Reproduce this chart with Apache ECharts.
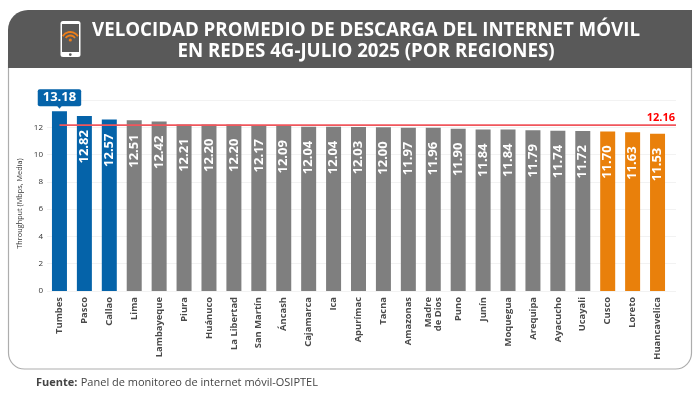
<!DOCTYPE html>
<html>
<head>
<meta charset="utf-8">
<style>html,body{margin:0;padding:0;background:#fff}#c{width:700px;height:395px}</style>
<script src="https://cdn.jsdelivr.net/npm/echarts@6/dist/echarts.min.js"></script>
</head>
<body>
<div id="c"></div>
<script>
const regions = ['Tumbes','Pasco','Callao','Lima','Lambayeque','Piura','Huánuco','La Libertad','San Martín','Áncash','Cajamarca','Ica','Apurímac','Tacna','Amazonas','Madre\nde Dios','Puno','Junín','Moquegua','Arequipa','Ayacucho','Ucayali','Cusco','Loreto','Huancavelica'];
const speeds = [13.18,12.82,12.57,12.51,12.42,12.21,12.20,12.20,12.17,12.09,12.04,12.04,12.03,12.00,11.97,11.96,11.90,11.84,11.84,11.79,11.74,11.72,11.70,11.63,11.53];
const nationalAverage = 12.16;
const topCount = 3, bottomCount = 3;
const titleLines = 'VELOCIDAD PROMEDIO DE DESCARGA DEL INTERNET MÓVIL\nEN REDES 4G-JULIO 2025 (POR REGIONES)';
const yName = 'Throughput (Mbps, Media)';

const BLUE='#0563a9', GRAY='#7f7f7f', ORANGE='#e9800b', FONT='"Open Sans"';
const colorOf = i => i < topCount ? BLUE : (i >= regions.length - bottomCount ? ORANGE : GRAY);

const chart = echarts.init(document.getElementById('c'), null, {renderer:'canvas'});
chart.setOption({
  animation:false,
  backgroundColor:'#fff',
  textStyle:{fontFamily:FONT},
  graphic:[
    {type:'rect',z:0,shape:{x:8.5,y:60,width:683,height:309,r:[0,0,16,16]},style:{fill:'#fff',stroke:'#adadad',lineWidth:1.2}},
    {type:'rect',z:1,shape:{x:8,y:10,width:684,height:58,r:[20,0,0,0]},style:{fill:'#595959'}},
    {type:'rect',z:2,shape:{x:60.5,y:21,width:20,height:36,r:2.5},style:{fill:'#fff'}},
    {type:'rect',z:3,shape:{x:62,y:24,width:17,height:28},style:{fill:'#595959'}},
    {type:'circle',z:3,shape:{cx:70.3,cy:54.6,r:1.4},style:{fill:'#595959'}},
    {type:'arc',z:4,shape:{cx:70.3,cy:41,r:9,startAngle:-Math.PI*0.82,endAngle:-Math.PI*0.18},style:{stroke:'#ee7f1a',lineWidth:1.8,fill:null}},
    {type:'arc',z:4,shape:{cx:70.3,cy:41,r:5.5,startAngle:-Math.PI*0.82,endAngle:-Math.PI*0.18},style:{stroke:'#ee7f1a',lineWidth:1.8,fill:null}},
    {type:'circle',z:4,shape:{cx:70.3,cy:40,r:1.6},style:{fill:'#ee7f1a'}},
    {type:'text',z:5,style:{x:366,y:20,text:titleLines,fill:'#fff',align:'center',verticalAlign:'top',font:'700 18.7px '+FONT,lineHeight:21}},
    {type:'text',z:5,style:{x:36,y:383,verticalAlign:'middle',rich:{b:{font:'700 11px '+FONT,fill:'#444'},n:{font:'400 11px '+FONT,fill:'#444'}},text:'{b|Fuente:} {n|Panel de monitoreo de internet móvil-OSIPTEL}'}}
  ],
  grid:[
    {left:47,top:100,width:623,height:191},
    {left:47,top:100,width:629,height:191}
  ],
  xAxis:[
    {type:'category',gridIndex:0,data:regions,
     axisLine:{show:false},axisTick:{show:false},
     axisLabel:{interval:0,rotate:90,margin:6,fontSize:9.4,fontWeight:700,color:'#4a4a4a',lineHeight:10.5,fontFamily:FONT}},
    {type:'value',gridIndex:1,min:-0.5,max:24.76,show:false,splitLine:{show:false}}
  ],
  yAxis:[
    {type:'value',gridIndex:0,min:0,max:14,interval:2,show:false},
    {type:'value',gridIndex:1,min:0,max:14,interval:2,
     name:yName,nameLocation:'middle',nameGap:11,nameRotate:90,
     nameTextStyle:{fontSize:7.3,color:'#333',padding:[0,16,0,0]},
     axisLine:{show:false},axisTick:{show:false},
     axisLabel:{margin:4,fontSize:8,color:'#333',formatter:v=>v===14?'':String(v)},
     splitLine:{lineStyle:{color:'#f2f2f2',width:1}}}
  ],
  series:[
    {type:'bar',xAxisIndex:0,yAxisIndex:0,z:3,barWidth:15,
     data:speeds.map((v,i)=>({
        value:v,
        itemStyle:{color:colorOf(i)},
        label: i===0 ? {show:true,position:'top',distance:5,rotate:0,align:'center',verticalAlign:'bottom',
            fontSize:13,fontWeight:700,color:'#fff',backgroundColor:BLUE,borderRadius:2,padding:[2,5,2,5]} : undefined
     })),
     label:{show:true,position:'insideTop',distance:14,rotate:90,align:'right',verticalAlign:'middle',
            fontSize:13,fontWeight:700,color:'#fff',fontFamily:FONT,formatter:p=>p.value.toFixed(2)},
     markPoint:{silent:true,symbol:'triangle',symbolRotate:180,symbolSize:[8,5],symbolOffset:[0,-5],
        itemStyle:{color:BLUE},label:{show:false},data:[{coord:[0,speeds[0]]}]}
    },
    {type:'line',xAxisIndex:1,yAxisIndex:1,z:5,symbol:'none',silent:true,
     lineStyle:{color:'#f0565c',width:1.8},
     endLabel:{show:true,align:'right',verticalAlign:'bottom',distance:0,offset:[-1,-2],fontSize:11,fontWeight:700,color:'#f00',fontFamily:FONT,formatter:()=>nationalAverage.toFixed(2)},
     data:[[0,nationalAverage],[24.76,nationalAverage]]}
  ]
});
</script>
</body>
</html>
